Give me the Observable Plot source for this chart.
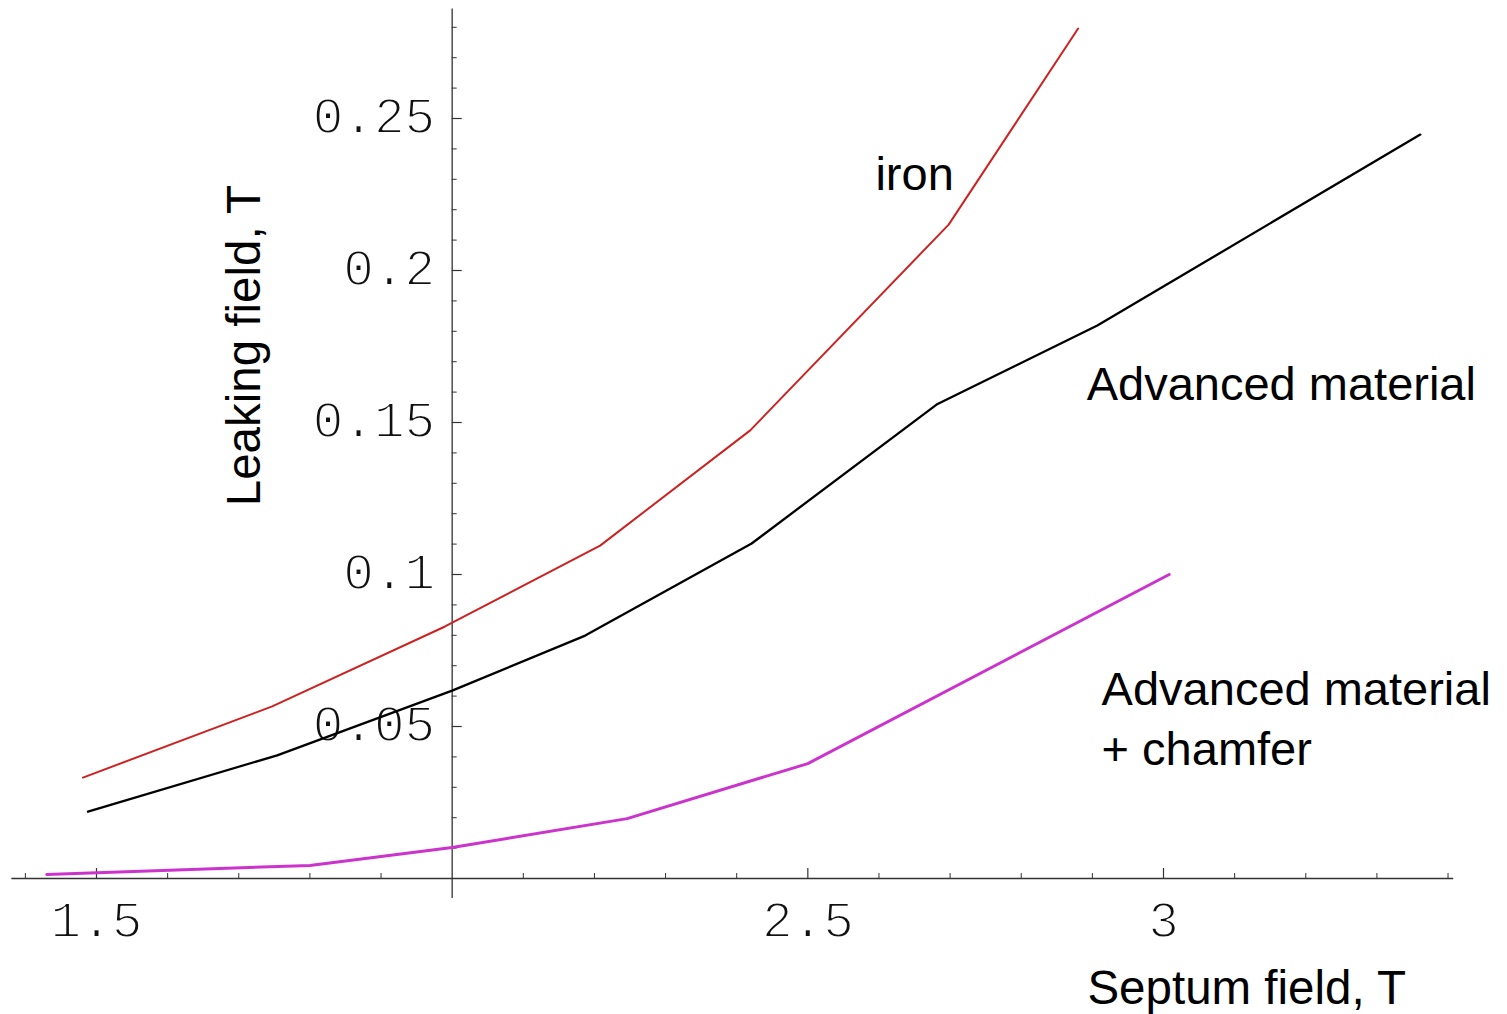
<!DOCTYPE html>
<html>
<head>
<meta charset="utf-8">
<script src="https://cdn.jsdelivr.net/npm/d3@7"></script>
<script src="https://cdn.jsdelivr.net/npm/@observablehq/plot@0.6"></script>
<style>
  html, body { margin: 0; padding: 0; background: #fff; }
  #chart svg { display: block; }
</style>
</head>
<body>
<div id="chart"></div>
<script>
// Septum field (T) and leaking field (T) for each material
const ironX = [1.481, 1.747, 1.990, 2.208, 2.419, 2.698, 2.880];
const ironY = [0.0332, 0.0566, 0.0829, 0.1095, 0.1474, 0.2151, 0.2796];

const advX = [1.488, 1.754, 2.000, 2.187, 2.421, 2.681, 2.907, 3.361];
const advY = [0.0220, 0.0405, 0.0618, 0.0799, 0.1102, 0.1559, 0.1819, 0.2447];

const chamX = [1.430, 1.800, 2.000, 2.246, 2.500, 3.008];
const chamY = [0.0013, 0.0043, 0.0102, 0.0197, 0.0378, 0.1000];

// Axes
const xTickLabels = [1.5, 2.5, 3];
const xMajorTicks = [1.5, 2.5, 3];
const xMinorTicks = d3.range(14, 35).map(d => d / 10).filter(d => !xMajorTicks.includes(d) && d !== 2);
const yTickLabels = [0.05, 0.1, 0.15, 0.2, 0.25];
const yMajorTicks = [0.05, 0.1, 0.15, 0.2, 0.25];
const yMinorTicks = d3.range(1, 29).map(d => d / 100).filter(d => !yMajorTicks.some(m => Math.abs(m - d) < 1e-9));
const xAxisExtent = [1.381, 3.408];
const yAxisExtent = [-0.0066, 0.286];

// Annotations
const seriesLabels = [
  {text: "iron", x: 2.595, y: 0.2329},
  {text: "Advanced material", x: 2.892, y: 0.1638},
  {text: "Advanced material\n+ chamfer", x: 2.913, y: 0.0536}
];
const xTitle = {text: "Septum field, T", x: 3.117, y: -0.0362};
const yTitle = {text: "Leaking field, T", x: 1.709, y: 0.1753};

const zip = (xs, ys) => xs.map((x, i) => ({x, y: ys[i]}));
const iron = zip(ironX, ironY);
const adv = zip(advX, advY);
const cham = zip(chamX, chamY);

const sans = "Liberation Sans, Arial, sans-serif";
const mono = "Liberation Mono, Courier New, monospace";
const monoStyle = {fontFamily: mono, fontSize: 51, fill: "#111", stroke: "white", strokeWidth: 1.8, paintOrder: "normal"};

const chart = Plot.plot({
  width: 1507,
  height: 1014,
  marginTop: 0, marginRight: 0, marginBottom: 0, marginLeft: 0,
  x: {domain: [1.5, 3], range: [96, 1163], axis: null},
  y: {domain: [0, 0.25], range: [878, 118], axis: null},
  style: {background: "white", overflow: "visible"},
  marks: [
    // tick labels
    Plot.text(xTickLabels, {x: d => d, y: 0, text: d => String(d), dy: 42, textAnchor: "middle", lineAnchor: "middle", ...monoStyle}),
    Plot.text(yTickLabels, {x: 2, y: d => d, text: d => String(d), dx: -17, dy: -2, textAnchor: "end", lineAnchor: "middle", ...monoStyle}),
    // axis lines
    Plot.ruleY([0], {x1: xAxisExtent[0], x2: xAxisExtent[1], stroke: "#333", strokeWidth: 1.3}),
    Plot.ruleX([2], {y1: yAxisExtent[0], y2: yAxisExtent[1], stroke: "#333", strokeWidth: 1.3}),
    // x ticks (pointing up)
    Plot.ruleX(xMinorTicks, {x: d => d, y1: 0, y2: 0, insetTop: -5, stroke: "#333", strokeWidth: 1}),
    Plot.ruleX(xMajorTicks, {x: d => d, y1: 0, y2: 0, insetTop: -10, stroke: "#333", strokeWidth: 1.2}),
    // y ticks (pointing right)
    Plot.ruleY(yMinorTicks, {y: d => d, x1: 2, x2: 2, insetRight: -5, stroke: "#333", strokeWidth: 1}),
    Plot.ruleY(yMajorTicks, {y: d => d, x1: 2, x2: 2, insetRight: -10, stroke: "#333", strokeWidth: 1.2}),
    // series
    Plot.line(cham, {x: "x", y: "y", stroke: "#cc33cc", strokeWidth: 3}),
    Plot.line(adv, {x: "x", y: "y", stroke: "#000", strokeWidth: 2.3}),
    Plot.line(iron, {x: "x", y: "y", stroke: "#cc2222", strokeWidth: 2}),
    // labels
    Plot.text(seriesLabels, {x: "x", y: "y", text: "text", fontFamily: sans, fontSize: 47, fill: "#000", textAnchor: "start", lineAnchor: "middle", lineHeight: 1.28}),
    Plot.text([xTitle], {x: "x", y: "y", text: "text", fontFamily: sans, fontSize: 47.5, fill: "#000", textAnchor: "middle", lineAnchor: "middle"}),
    Plot.text([yTitle], {x: "x", y: "y", text: "text", fontFamily: sans, fontSize: 47.5, fill: "#000", textAnchor: "middle", lineAnchor: "middle", rotate: -90})
  ]
});
document.getElementById("chart").appendChild(chart);
</script>
</body>
</html>
